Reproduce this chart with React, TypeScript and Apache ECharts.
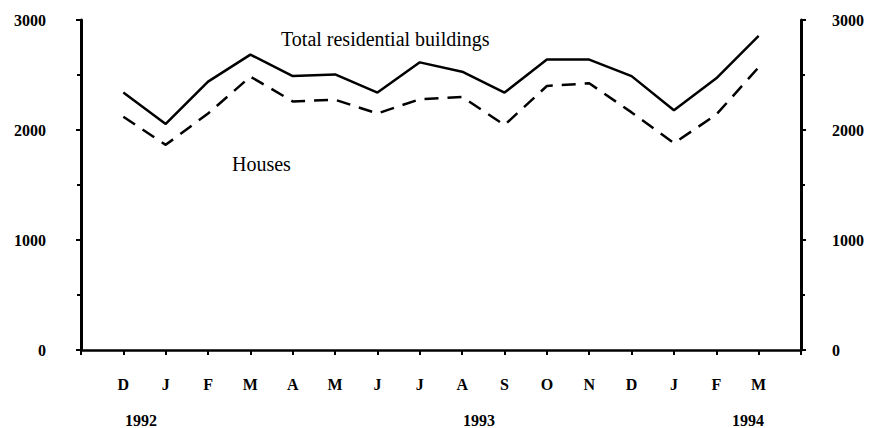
import React, { useEffect, useRef } from "react";
import * as echarts from "echarts";

const months = ["", "D", "J", "F", "M", "A", "M", "J", "J", "A", "S", "O", "N", "D", "J", "F", "M", ""];
const totalResidential = [2340, 2055, 2440, 2685, 2490, 2505, 2340, 2615, 2530, 2340, 2640, 2640, 2490, 2180, 2470, 2855];
const houses = [2120, 1865, 2150, 2485, 2260, 2275, 2150, 2280, 2300, 2045, 2400, 2425, 2160, 1880, 2140, 2570];
const yTicks = [0, 1000, 2000, 3000];
const years = [
  { label: "1992", x: 141 },
  { label: "1993", x: 479 },
  { label: "1994", x: 748 },
];

const FONT = "'Liberation Serif', 'DejaVu Serif', serif";

export default function App() {
  const ref = useRef<HTMLDivElement>(null);
  useEffect(() => {
    if (!ref.current) return;
    const chart = echarts.init(ref.current, undefined, { renderer: "svg" });
    const pad = (arr: number[]) => ["-", ...arr, "-"];
    const yAxisBase = (position: "left" | "right", margin: number) => ({
      type: "value" as const,
      position,
      min: yTicks[0],
      max: yTicks[yTicks.length - 1],
      interval: 1000,
      axisLine: { show: true, lineStyle: { color: "#000", width: 3 } },
      axisTick: { show: true, inside: false, length: 5, lineStyle: { color: "#000", width: 2 } },
      minorTick: { show: true, splitNumber: 2, length: 4, lineStyle: { color: "#000", width: 2 } },
      splitLine: { show: false },
      axisLabel: {
        color: "#000",
        fontFamily: FONT,
        fontWeight: "bold" as const,
        fontSize: 16,
        margin,
        formatter: (v: number) => String(v),
      },
    });
    chart.setOption({
      animation: false,
      backgroundColor: "#fff",
      grid: { left: 81, right: 75, top: 20, bottom: 78, containLabel: false },
      xAxis: {
        type: "category",
        data: months,
        boundaryGap: false,
        axisLine: { show: true, onZero: false, lineStyle: { color: "#000", width: 2.5 } },
        axisTick: { show: true, length: 5, interval: 0, lineStyle: { color: "#000", width: 2 } },
        axisLabel: {
          interval: 0,
          color: "#000",
          fontFamily: FONT,
          fontWeight: "bold",
          fontSize: 16,
          margin: 26,
        },
        splitLine: { show: false },
      },
      yAxis: [yAxisBase("left", 35), yAxisBase("right", 31)],
      series: [
        {
          name: "Total residential buildings",
          type: "line",
          data: pad(totalResidential),
          showSymbol: false,
          lineStyle: { color: "#000", width: 2.5 },
          yAxisIndex: 0,
        },
        {
          name: "Houses",
          type: "line",
          data: pad(houses),
          showSymbol: false,
          lineStyle: { color: "#000", width: 2.5, type: [14, 9] },
          yAxisIndex: 0,
        },
      ],
      graphic: [
        {
          type: "text",
          left: 281,
          top: 29,
          style: { text: "Total residential buildings", font: `20px ${FONT}`, fill: "#000" },
        },
        {
          type: "text",
          left: 232,
          top: 154,
          style: { text: "Houses", font: `20px ${FONT}`, fill: "#000" },
        },
        ...years.map((y) => ({
          type: "text",
          x: y.x,
          y: 420,
          style: {
            text: y.label,
            font: `bold 16px ${FONT}`,
            fill: "#000",
            align: "center",
            verticalAlign: "middle",
          },
        })),
      ],
    });
    return () => chart.dispose();
  }, []);
  return <div ref={ref} style={{ width: 876, height: 428, position: "absolute", left: 0, top: 0 }} />;
}
